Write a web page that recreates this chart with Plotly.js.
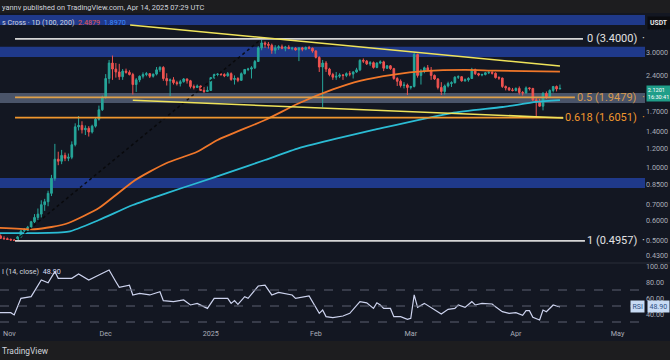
<!DOCTYPE html>
<html><head><meta charset="utf-8">
<script src="https://cdn.plot.ly/plotly-3.0.1.min.js"></script>
<style>html,body{margin:0;padding:0;background:#131722;}#chart{width:670px;height:360px;}</style>
</head><body><div id="chart"></div>
<script>
// ---- data (XRP/USDT daily) ----
const firstDay = '2024-10-30';
const openP = [
0.522,0.520,
0.508,0.506,0.503,0.500,0.498,0.515,0.545,0.548,0.565,0.595,0.620,0.640,0.700,0.720,0.780,0.900,1.080,1.060,1.120,1.090,1.100,1.240,1.470,1.490,1.430,1.450,1.400,1.480,1.580,1.730,
1.950,2.330,2.700,2.550,2.480,2.370,2.500,2.470,2.420,2.200,2.300,2.380,2.420,2.440,2.380,2.430,2.530,2.590,2.330,2.280,2.300,2.240,2.220,2.260,2.320,2.280,2.160,2.140,2.170,2.080,2.060,
2.080,2.350,2.420,2.430,2.420,2.390,2.440,2.310,2.330,2.290,2.440,2.540,2.550,2.580,2.740,3.120,3.270,3.230,3.200,3.050,3.120,3.150,3.110,3.140,3.100,3.110,3.060,3.120,3.080,3.130,3.110,
3.030,2.850,2.600,2.700,2.550,2.420,2.360,2.380,2.410,2.400,2.440,2.430,2.480,2.530,2.770,2.750,2.680,2.710,2.590,2.700,2.730,2.570,2.630,2.560,2.330,2.270,2.180,2.190,
2.140,2.160,2.930,2.400,2.500,2.580,2.520,2.400,2.320,2.140,2.060,2.170,2.220,2.240,2.360,2.370,2.280,2.300,2.330,2.540,2.440,2.410,2.420,2.460,2.470,2.450,2.350,2.340,2.160,2.130,2.090,
2.080,2.120,2.040,2.030,2.130,2.120,1.900,1.860,1.790,2.020,1.960,2.080,2.160,2.110];
const highP = [
0.530,0.527,
0.518,0.512,0.507,0.505,0.520,0.550,0.560,0.572,0.600,0.640,0.675,0.730,0.740,0.800,0.930,1.250,1.160,1.180,1.150,1.140,1.280,1.520,1.630,1.550,1.490,1.480,1.500,1.600,1.800,1.980,
2.430,2.780,2.900,2.700,2.680,2.550,2.560,2.520,2.460,2.340,2.400,2.470,2.480,2.450,2.440,2.600,2.620,2.620,2.450,2.330,2.360,2.280,2.300,2.340,2.330,2.300,2.200,2.200,2.180,2.150,2.160,
2.360,2.440,2.450,2.460,2.450,2.480,2.470,2.400,2.360,2.470,2.550,2.580,2.620,2.780,3.170,3.400,3.320,3.300,3.250,3.200,3.200,3.220,3.180,3.200,3.150,3.140,3.140,3.150,3.160,3.180,3.130,
3.050,2.880,2.780,2.750,2.580,2.460,2.480,2.450,2.430,2.470,2.500,2.500,2.580,2.800,2.820,2.780,2.750,2.740,2.720,2.770,2.760,2.650,2.650,2.580,2.360,2.310,2.250,2.220,
2.170,2.990,2.950,2.550,2.610,2.650,2.600,2.420,2.340,2.250,2.200,2.260,2.270,2.380,2.400,2.380,2.330,2.360,2.580,2.560,2.460,2.440,2.480,2.500,2.500,2.470,2.380,2.350,2.180,2.150,2.130,
2.140,2.160,2.070,2.160,2.140,2.130,1.950,1.920,2.050,2.060,2.100,2.170,2.180,2.200];
const lowP = [
0.515,0.505,
0.502,0.500,0.497,0.4957,0.497,0.512,0.538,0.545,0.562,0.588,0.605,0.620,0.660,0.690,0.760,0.880,1.020,1.030,1.060,1.060,1.080,1.220,1.420,1.380,1.360,1.340,1.380,1.460,1.560,1.710,
1.920,2.220,2.300,2.350,2.300,2.300,2.440,2.400,2.000,2.050,2.250,2.330,2.380,2.340,2.350,2.400,2.480,2.280,2.180,1.970,2.200,2.180,2.160,2.240,2.220,2.120,2.100,2.130,2.070,2.030,2.050,
2.070,2.320,2.380,2.390,2.360,2.370,2.280,2.200,2.250,2.280,2.420,2.500,2.330,2.550,2.730,3.050,3.120,3.100,2.950,2.950,3.060,3.080,3.020,3.080,3.050,3.040,2.750,3.020,3.050,3.080,2.980,
2.820,2.480,1.770,2.480,2.380,2.300,2.300,2.340,2.300,2.360,2.380,2.330,2.460,2.500,2.700,2.650,2.630,2.560,2.570,2.670,2.500,2.550,2.530,2.300,2.170,2.140,2.120,1.990,
2.100,2.140,2.350,2.200,2.450,2.500,2.300,2.300,2.100,1.990,2.000,2.140,2.150,2.220,2.320,2.260,2.260,2.260,2.320,2.410,2.380,2.380,2.400,2.430,2.420,2.330,2.300,2.130,2.080,2.070,2.060,
2.060,2.000,1.980,2.020,2.080,1.880,1.610,1.780,1.720,1.920,1.950,2.040,2.060,2.100];
const closeP = [
0.520,0.508,
0.506,0.503,0.500,0.498,0.515,0.545,0.548,0.565,0.595,0.620,0.640,0.700,0.720,0.780,0.900,1.080,1.060,1.120,1.090,1.100,1.240,1.470,1.490,1.430,1.450,1.400,1.480,1.580,1.730,1.950,
2.330,2.700,2.550,2.480,2.370,2.500,2.470,2.420,2.200,2.300,2.380,2.420,2.440,2.380,2.430,2.530,2.590,2.330,2.280,2.300,2.240,2.220,2.260,2.320,2.280,2.160,2.140,2.170,2.080,2.060,2.080,
2.350,2.420,2.430,2.420,2.390,2.440,2.310,2.330,2.290,2.440,2.540,2.550,2.580,2.740,3.120,3.270,3.230,3.200,3.050,3.120,3.150,3.110,3.140,3.100,3.110,3.060,3.120,3.080,3.130,3.110,3.030,
2.850,2.600,2.700,2.550,2.420,2.360,2.380,2.410,2.400,2.440,2.430,2.480,2.530,2.770,2.750,2.680,2.710,2.590,2.700,2.730,2.570,2.630,2.560,2.330,2.270,2.180,2.190,2.140,
2.160,2.930,2.400,2.500,2.580,2.520,2.400,2.320,2.140,2.060,2.170,2.220,2.240,2.360,2.370,2.280,2.300,2.330,2.540,2.440,2.410,2.420,2.460,2.470,2.450,2.350,2.340,2.160,2.130,2.090,2.080,
2.120,2.040,2.030,2.130,2.120,1.900,1.860,1.790,2.020,1.960,2.080,2.160,2.110,2.120];

const ma100Dates = ['2024-10-30','2024-11-10','2024-11-15','2024-11-20','2024-11-29','2024-12-04','2024-12-09','2024-12-14','2024-12-19','2024-12-28','2025-01-03','2025-01-17','2025-01-27','2025-02-06','2025-02-14','2025-02-24','2025-03-05','2025-03-17','2025-03-26','2025-04-14'];
const ma100 = [0.562,0.554,0.566,0.588,0.678,0.768,0.872,0.959,1.042,1.160,1.297,1.569,1.840,2.10,2.28,2.42,2.50,2.53,2.51,2.4879];
const ma200Dates = ['2024-10-30','2024-11-09','2024-11-20','2024-11-29','2024-12-09','2024-12-19','2024-12-28','2025-01-07','2025-01-17','2025-01-27','2025-02-07','2025-02-18','2025-03-13','2025-03-28','2025-04-07','2025-04-14'];
const ma200 = [0.534,0.534,0.541,0.605,0.698,0.782,0.861,0.959,1.072,1.201,1.315,1.427,1.677,1.776,1.863,1.897];

const rsiDates = ['2024-10-30','2024-11-03','2024-11-04','2024-11-06','2024-11-09','2024-11-12','2024-11-14','2024-11-16','2024-11-17','2024-11-21','2024-11-23','2024-11-26','2024-11-29','2024-12-02','2024-12-04','2024-12-05','2024-12-08','2024-12-09','2024-12-11','2024-12-14','2024-12-17','2024-12-18','2024-12-21','2024-12-24','2024-12-26','2024-12-28','2024-12-31','2025-01-02','2025-01-06','2025-01-07','2025-01-08','2025-01-09','2025-01-11','2025-01-12','2025-01-15','2025-01-17','2025-01-19','2025-01-21','2025-01-25','2025-01-26','2025-01-30','2025-02-01','2025-02-02','2025-02-03','2025-02-04','2025-02-06','2025-02-09','2025-02-11','2025-02-14','2025-02-16','2025-02-18','2025-02-19','2025-02-20','2025-02-21','2025-02-23','2025-02-24','2025-02-26','2025-02-28','2025-03-01','2025-03-02','2025-03-03','2025-03-05','2025-03-08','2025-03-10','2025-03-12','2025-03-14','2025-03-15','2025-03-17','2025-03-19','2025-03-20','2025-03-22','2025-03-25','2025-03-26','2025-03-28','2025-03-30','2025-04-01','2025-04-03','2025-04-04','2025-04-05','2025-04-06','2025-04-08','2025-04-09','2025-04-10','2025-04-12','2025-04-13','2025-04-14'];
const rsiVals = [41.6,41.6,38.8,59.6,61.7,82.5,79,93,84.6,84.6,90,82.5,88.8,95,80.4,73.3,76,63.8,65.8,63.8,67.9,56.7,55.4,57.5,51.3,53.3,47,59.6,59.6,53.3,56.7,52,61.7,59.6,75,76,63.8,67,63.8,59.6,62.5,49,40.8,45,36.7,35.5,37.5,40.8,55.4,54,47,54,51.3,47,47,36.7,36.7,33.3,34.6,63.8,48.3,53.3,45.8,40,45.8,47,51.3,48.3,55.4,51.3,53.3,52.5,49,42.9,40.8,41.6,38.3,44.2,44.2,35.8,32.5,45,42.9,51.3,50,48.9];

const fibLevels = [3.4, 1.9479, 1.6051, 0.4957];
const fibRatios = ['0', '0.5', '0.618', '1'];
const priceTicks = [3.0, 2.4, 1.7, 1.4, 1.2, 1.0, 0.85, 0.7, 0.6, 0.5, 0.43];
const rsiTicks = [100, 80, 60, 40];
const monthTicks = ['2024-11-01','2024-12-01','2025-01-01','2025-02-01','2025-03-01','2025-04-01','2025-05-01'];
const monthLabels = ['Nov','Dec','2025','Feb','Mar','Apr','May'];
const lastPrice = 2.1201, lastMA100 = 2.4879, lastMA200 = 1.8970, lastRSI = 48.90;

// ---- build ----
const dates = [];
{ const d0 = new Date(firstDay + 'T00:00:00Z');
  for (let i = 0; i < closeP.length; i++) { const d = new Date(d0.getTime() + i*86400000); dates.push(d.toISOString().slice(0,10)); } }

const W = 645, TOP = 13, BOT = 328, H = BOT - TOP;
const pxX = p => p / W;
const pxY = p => (BOT - p) / H;
const FONT = 'Roboto, "Liberation Sans", Arial, sans-serif';

const traces = [
 {type:'candlestick', x:dates, open:openP, high:highP, low:lowP, close:closeP, xaxis:'x', yaxis:'y',
  increasing:{line:{color:'#26a69a', width:1}, fillcolor:'#26a69a'},
  decreasing:{line:{color:'#ef5350', width:1}, fillcolor:'#ef5350'}, whiskerwidth:0, hoverinfo:'skip'},
 {type:'scatter', mode:'lines', x:ma100Dates, y:ma100, yaxis:'y', line:{color:'#f0772a', width:1.8, shape:'spline', smoothing:0.6}, hoverinfo:'skip'},
 {type:'scatter', mode:'lines', x:ma200Dates, y:ma200, yaxis:'y', line:{color:'#2bbcd4', width:1.8, shape:'spline', smoothing:0.6}, hoverinfo:'skip'},
 {type:'scatter', mode:'lines', x:rsiDates, y:rsiVals, yaxis:'y2', line:{color:'#cdd3ee', width:1.2}, hoverinfo:'skip'}
];

const shapes = [];
const zones = [[3.88,4.27,'#1f398a'],[2.86,3.155,'#1f398a'],[1.845,2.03,'#4a5469'],[0.821,0.903,'#1f398a']];
zones.forEach(z => shapes.push({type:'rect', xref:'paper', yref:'y', x0:0, x1:1, y0:z[0], y1:z[1], fillcolor:z[2], line:{width:0}, layer:'below'}));
shapes.push({type:'line', xref:'x', yref:'y', x0:'2024-11-04 06:00', y0:fibLevels[3], x1:'2025-01-16', y1:fibLevels[0], line:{color:'rgba(8,8,10,0.9)', width:1.5, dash:'dot'}});
const fibEnds = ['2025-04-20 19:00','2025-04-18 10:00','2025-04-14 22:00','2025-04-21 09:00'];
const fibColors = ['#d6d6d6','#dfa049','#f0962e','#d6d6d6'];
fibLevels.forEach((v,i) => shapes.push({type:'line', xref:'x', yref:'y', x0:'2024-11-04 06:00', x1:fibEnds[i], y0:v, y1:v, line:{color:fibColors[i], width:1.8}}));
shapes.push({type:'line', xref:'x', yref:'y', x0:'2024-12-08 05:00', y0:3.88, x1:'2025-04-14', y1:2.626, line:{color:'#efe35a', width:1.6}});
shapes.push({type:'line', xref:'x', yref:'y', x0:'2024-12-09', y0:1.895, x1:'2025-04-15', y1:1.60, line:{color:'#efe35a', width:1.6}});
[70,50,30].forEach(v => shapes.push({type:'line', xref:'paper', yref:'y2', x0:0, x1:1, y0:v, y1:v, line:{color:'#5d6170', width:1, dash:'dash'}}));
shapes.push({type:'line', xref:'paper', yref:'paper', x0:0, x1:670/W, y0:pxY(263), y1:pxY(263), line:{color:'#2a2e39', width:1}});
shapes.push({type:'rect', xref:'paper', yref:'paper', x0:-0.01, x1:1.05, y0:pxY(13), y1:pxY(-1), fillcolor:'#1d1d1f', line:{width:0}, layer:'above'});
shapes.push({type:'rect', xref:'paper', yref:'paper', x0:-0.01, x1:1.05, y0:pxY(361), y1:pxY(341), fillcolor:'#1d1d1f', line:{width:0}, layer:'above'});

const tickFont = {family:FONT, size:7.2, color:'#a9adb8'};
const ann = [];
const A = o => ann.push(Object.assign({showarrow:false, font:{family:FONT, size:7.2, color:'#d1d4dc'}}, o));
A({xref:'paper', yref:'paper', x:pxX(0), y:pxY(7), xanchor:'left', yanchor:'middle', text:'yannv published on TradingView.com, Apr 14, 2025 07:29 UTC', font:{family:FONT, size:7.4, color:'#d1d4dc'}});
A({xref:'paper', yref:'paper', x:pxX(0), y:pxY(22), xanchor:'left', yanchor:'middle',
   text:'s Cross · 1D (100, 200)  <span style="color:#e8574f">' + lastMA100.toFixed(4) + '</span>  <span style="color:#3d8bfd">' + lastMA200.toFixed(4) + '</span>'});
A({xref:'paper', yref:'paper', x:pxX(0), y:pxY(271.5), xanchor:'left', yanchor:'middle',
   text:'I (14, close)  <span style="color:#d8def5">' + lastRSI.toFixed(2) + '</span>'});
A({xref:'paper', yref:'paper', x:pxX(0), y:pxY(351), xanchor:'left', yanchor:'middle', text:'TradingView', font:{family:FONT, size:8.4, color:'#d1d4dc'}});
// first month label (kept inside the picture's left edge)
A({xref:'x', yref:'paper', x:monthTicks[0], xshift:-3, y:pxY(333.5), xanchor:'left', yanchor:'middle', text:monthLabels[0], font:tickFont});
const fibLabelColors = ['#e2e2e2','#d89a4e','#f0962e','#e2e2e2'];
fibLevels.forEach((v,i) => {
  A({xref:'paper', yref:'y', x:pxX(639), y:Math.log10(v), xanchor:'right', yanchor:'middle',
     text: fibRatios[i] + ' (' + v.toFixed(4) + ')', font:{family:FONT, size:11, color:fibLabelColors[i]}});
  A({xref:'paper', yref:'y', x:pxX(643.5), y:Math.log10(v), xanchor:'center', yanchor:'middle', text:'·', font:{family:FONT, size:11, color:fibLabelColors[i]}});
});
A({xref:'paper', yref:'paper', x:pxX(647), y:pxY(23), xanchor:'left', yanchor:'middle', text:'<b>USDT</b>', bgcolor:'#0b0c10', borderpad:2, font:{family:FONT, size:6.8, color:'#e8e8e8'}});
A({xref:'paper', yref:'paper', x:pxX(645.5), y:pxY(85), xanchor:'left', yanchor:'top', align:'left', text: lastPrice.toFixed(4) + '<br>16:30:41', bgcolor:'#1f9e89', borderpad:0.8, font:{family:FONT, size:5.6, color:'#ffffff'}});
A({xref:'paper', yref:'y2', x:pxX(645), y:lastRSI, xanchor:'right', yanchor:'middle', text:'RSI', bgcolor:'#c8dbf4', borderpad:1.5, font:{family:FONT, size:7, color:'#2c4f85'}});
A({xref:'paper', yref:'y2', x:pxX(646.5), y:lastRSI, xanchor:'left', yanchor:'middle', text:lastRSI.toFixed(2), bgcolor:'#c8dbf4', borderpad:1.5, font:{family:FONT, size:7, color:'#2c4f85'}});

const layout = {
  width:670, height:360,
  margin:{l:0, r:670-W, t:TOP, b:360-BOT, pad:0},
  paper_bgcolor:'#131722', plot_bgcolor:'rgba(0,0,0,0)',
  showlegend:false, hovermode:false, dragmode:false,
  xaxis:{type:'date', anchor:'y2', range:['2024-10-30 19:40','2025-05-09 02:10'], showgrid:false, zeroline:false, showline:false,
         tickvals:monthTicks.slice(1), ticktext:monthLabels.slice(1), ticks:'', tickfont:tickFont, ticklabeloverflow:'allow', rangeslider:{visible:false}, fixedrange:true},
  yaxis:{type:'log', domain:[pxY(263), 1], range:[-0.3962, 0.6385], side:'right', anchor:'x', showgrid:false, zeroline:false, showline:false,
         tickvals:priceTicks, ticktext:priceTicks.map(v => v.toFixed(4)), ticks:'', tickfont:tickFont, fixedrange:true},
  yaxis2:{domain:[0, pxY(263)], range:[22.5, 103.75], side:'right', anchor:'x', showgrid:false, zeroline:false, showline:false,
         tickvals:rsiTicks, ticktext:rsiTicks.map(v => v.toFixed(2)), ticks:'', tickfont:tickFont, fixedrange:true},
  shapes:shapes, annotations:ann
};
Plotly.newPlot('chart', traces, layout, {displayModeBar:false, staticPlot:true});
</script>
</body></html>
